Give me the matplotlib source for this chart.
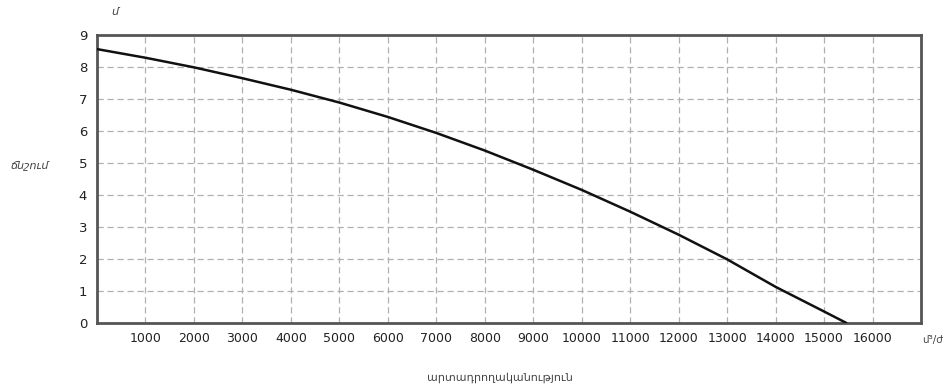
import matplotlib
matplotlib.use("Agg")
import matplotlib.pyplot as plt

flow = [0, 1000, 2000, 3000, 4000, 5000, 6000, 7000, 8000, 9000, 10000,
        11000, 12000, 13000, 14000, 15000, 15450]
head = [8.55, 8.28, 7.98, 7.64, 7.28, 6.88, 6.43, 5.93, 5.38, 4.78, 4.15,
        3.47, 2.75, 1.98, 1.12, 0.35, 0.0]
x_ticks = [1000, 2000, 3000, 4000, 5000, 6000, 7000, 8000, 9000, 10000,
           11000, 12000, 13000, 14000, 15000, 16000]
y_ticks = [0, 1, 2, 3, 4, 5, 6, 7, 8, 9]

plt.rcParams['font.family'] = ['DejaVu Sans']

fig = plt.figure(figsize=(9.45, 3.92), dpi=100)
ax = fig.add_axes([0.1026, 0.1768, 0.872, 0.7347])

ax.plot(flow, head, color='#111111', lw=1.8, zorder=3)

ax.set_xlim(0, 17000)
ax.set_ylim(0, 9)
ax.set_xticks(x_ticks)
ax.set_xticklabels([str(v) for v in x_ticks], fontsize=9, color='#222222')
ax.set_yticks(y_ticks)
ax.set_yticklabels([str(v) for v in y_ticks], fontsize=9.5, color='#222222')
ax.tick_params(length=0, pad=7)

ax.grid(True, color='#b0b0b0', linestyle=(0, (5, 3)), lw=0.9)
for s in ax.spines.values():
    s.set_color('#555555')
    s.set_linewidth(2)

fig.text(115 / 945, 1 - 12 / 392, 'մ', fontsize=8, style='italic',
         color='#444444', ha='center', va='center')
fig.text(30 / 945, 1 - 166 / 392, 'ճնշում', fontsize=8, style='italic',
         color='#444444', ha='center', va='center')
fig.text(943 / 945, 1 - 340 / 392, 'մ³/ժ', fontsize=7.5, color='#444444',
         ha='right', va='center')
fig.text(500 / 945, 1 - 378 / 392, 'արտադրողականություն', fontsize=8,
         color='#444444', ha='center', va='center')

fig.savefig('out.png', dpi=100)
